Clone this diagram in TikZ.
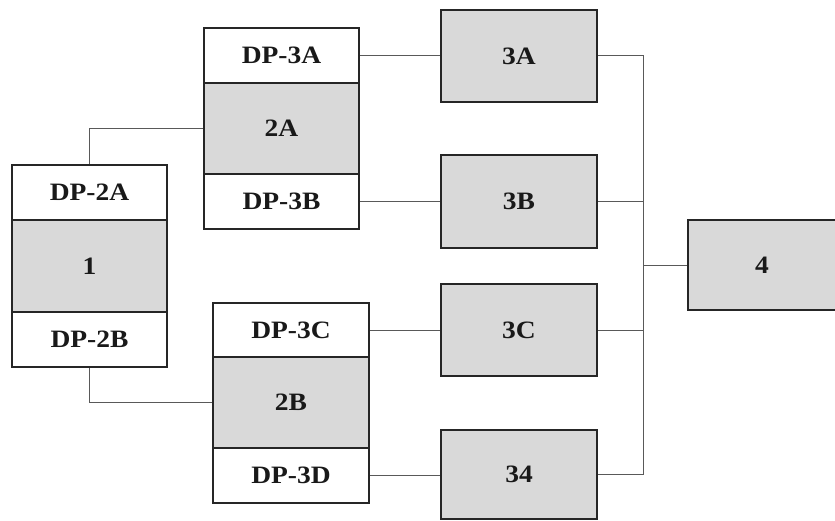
\documentclass[tikz,border=0pt]{standalone}
\usepackage{fontspec}
\setmainfont{Liberation Serif}[FakeStretch=1.1]
\begin{document}
\begin{tikzpicture}[x=1pt,y=-1pt,
  box/.style={draw=black!85, line width=1.8pt, rectangle, inner sep=0pt,
    font=\fontsize{25}{27}\selectfont\bfseries, text=black!90},
  wbox/.style={box, fill=white},
  gbox/.style={box, fill=black!15},
  link/.style={draw=black!65, line width=1pt}]
\useasboundingbox (0,0) rectangle (835,521);
\clip (0,0) rectangle (835,521);

% left stack
\node[wbox, minimum width=155, minimum height=55] (dp2a) at (89.5,192.5) {DP-2A};
\node[gbox, minimum width=155, minimum height=92] (n1) at (89.5,266) {1};
\node[wbox, minimum width=155, minimum height=55] (dp2b) at (89.5,339.5) {DP-2B};

% upper middle stack
\node[wbox, minimum width=155, minimum height=55] (dp3a) at (281.5,55.5) {DP-3A};
\node[gbox, minimum width=155, minimum height=91] (n2a) at (281.5,128.5) {2A};
\node[wbox, minimum width=155, minimum height=55] (dp3b) at (281.5,201.5) {DP-3B};

% lower middle stack
\node[wbox, minimum width=156, minimum height=54] (dp3c) at (291,330) {DP-3C};
\node[gbox, minimum width=156, minimum height=91] (n2b) at (291,402.5) {2B};
\node[wbox, minimum width=156, minimum height=55] (dp3d) at (291,475.5) {DP-3D};

% third column
\node[gbox, minimum width=156, minimum height=92] (n3a) at (519,56) {3A};
\node[gbox, minimum width=156, minimum height=93] (n3b) at (519,201.5) {3B};
\node[gbox, minimum width=156, minimum height=92] (n3c) at (519,330) {3C};
\node[gbox, minimum width=156, minimum height=89] (n34) at (519,474.5) {34};

% final box
\node[gbox, minimum width=148, minimum height=90] (n4) at (762,265) {4};

\coordinate (bus) at (643,266);

% connectors
\draw[link] (dp2a.north) |- (n2a.west);
\draw[link] (dp2b.south) |- (n2b.west);
\draw[link] (dp3a.east) -- (n3a.west |- dp3a.east);
\draw[link] (dp3b.east) -- (n3b.west |- dp3b.east);
\draw[link] (dp3c.east) -- (n3c.west |- dp3c.east);
\draw[link] (dp3d.east) -- (n34.west |- dp3d.east);
\draw[link] (n3a.east) -| (bus);
\draw[link] (n34.east) -| (bus);
\draw[link] (n3b.east) -- (n3b.east -| bus);
\draw[link] (n3c.east) -- (n3c.east -| bus);
\draw[link] (bus) -- (n4.west |- bus);
\end{tikzpicture}
\end{document}
